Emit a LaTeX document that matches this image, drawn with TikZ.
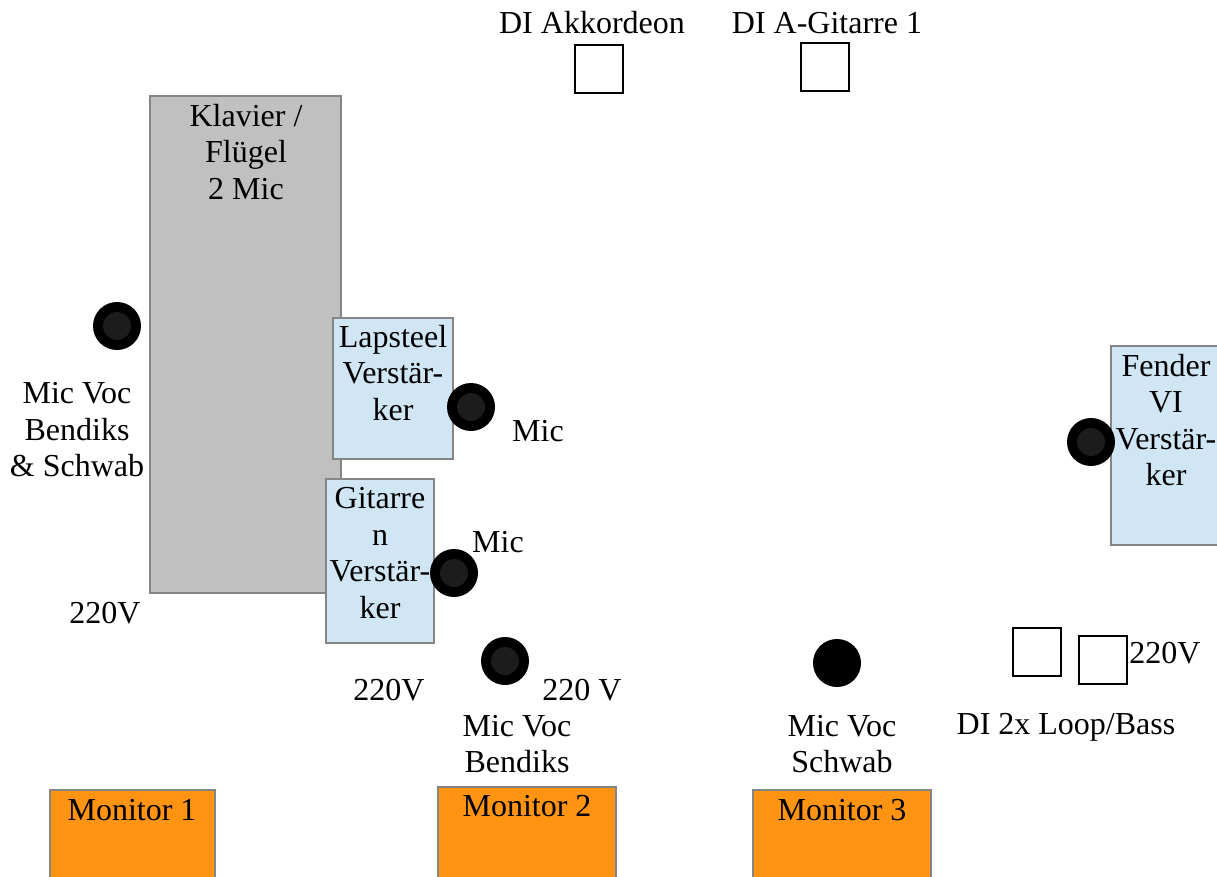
\documentclass[tikz,border=0pt]{standalone}
\usepackage{fontspec}
\setmainfont{Liberation Serif}
\definecolor{pianofill}{HTML}{C0C0C0}
\definecolor{boxline}{HTML}{858585}
\definecolor{ampfill}{HTML}{D0E6F4}
\definecolor{monfill}{HTML}{FF9412}
\definecolor{micin}{HTML}{1C1C1C}
\tikzset{
  lbl/.style={inner sep=0pt, align=center, font=\fontsize{24}{27.4}\selectfont},
  piano/.style={draw=boxline, line width=1.5pt, fill=pianofill},
  amp/.style={draw=boxline, line width=1.5pt, fill=ampfill},
  monbox/.style={draw=boxline, line width=1.5pt, fill=monfill},
  dibox/.style={draw=black, line width=1pt, fill=white},
}
\newcommand{\micdot}[2]{%
  \fill[black] (#1) circle[radius=24];
  \fill[micin] (#1) circle[radius=14];
}
\begin{document}
\begin{tikzpicture}[x=0.75pt,y=-0.75pt]
\useasboundingbox[fill=white] (0,0) rectangle (1217,877);
% piano
\draw[piano] (150,96) rectangle (341,593);
\node[lbl] (piano) at (246,152) {Klavier /\\Flügel\\2 Mic};
% amps
\draw[amp] (333,318) rectangle (453,459);
\node[lbl] (lap) at (393,373) {Lapsteel\\Verstär-\\ker};
\draw[amp] (326,479) rectangle (434,643);
\node[lbl] (git) at (380,553) {Gitarre\\n\\Verstär-\\ker};
\draw[amp] (1111,346) rectangle (1225,545);
\node[lbl] (fender) at (1166,420) {Fender\\VI\\Verstär-\\ker};
% mics
\coordinate (m1) at (117,326);
\coordinate (m2) at (471,407);
\coordinate (m3) at (454,573);
\coordinate (m4) at (505,661);
\coordinate (m5) at (1091,442);
\micdot{m1}{}
\micdot{m2}{}
\micdot{m3}{}
\micdot{m4}{}
\micdot{m5}{}
\coordinate (m6) at (837,663);
\fill[black] (m6) circle[radius=24];
% DI boxes
\draw[dibox] (575,45) rectangle (623,93);
\draw[dibox] (801,43) rectangle (849,91);
\draw[dibox] (1013,628) rectangle (1061,676);
\draw[dibox] (1079,636) rectangle (1127,684);
% monitors
\draw[monbox] (50,790) rectangle (215,885);
\draw[monbox] (438,787) rectangle (616,885);
\draw[monbox] (753,790) rectangle (931,885);
\node[lbl] (mon1) at (132,810) {Monitor 1};
\node[lbl] (mon2) at (527,806) {Monitor 2};
\node[lbl] (mon3) at (842,810) {Monitor 3};
% labels
\node[lbl] (diakk) at (592,23) {DI Akkordeon};
\node[lbl] (diagit) at (827,23) {DI A-Gitarre 1};
\node[lbl] (mvbs) at (77,430) {Mic Voc\\Bendiks\\\& Schwab};
\node[lbl] (mic1) at (538,431) {Mic};
\node[lbl] (mic2) at (498,542) {Mic};
\node[lbl] (v1) at (105,613) {220V};
\node[lbl] (v2) at (389,690) {220V};
\node[lbl] (v3) at (582,690) {220 V};
\node[lbl] (mvb) at (517,744) {Mic Voc\\Bendiks};
\node[lbl] (mvs) at (842,744) {Mic Voc\\Schwab};
\node[lbl] (diloop) at (1066,727) {DI 2x Loop/Bass};
\node[lbl] (v4) at (1165,653) {220V};
\end{tikzpicture}
\end{document}
